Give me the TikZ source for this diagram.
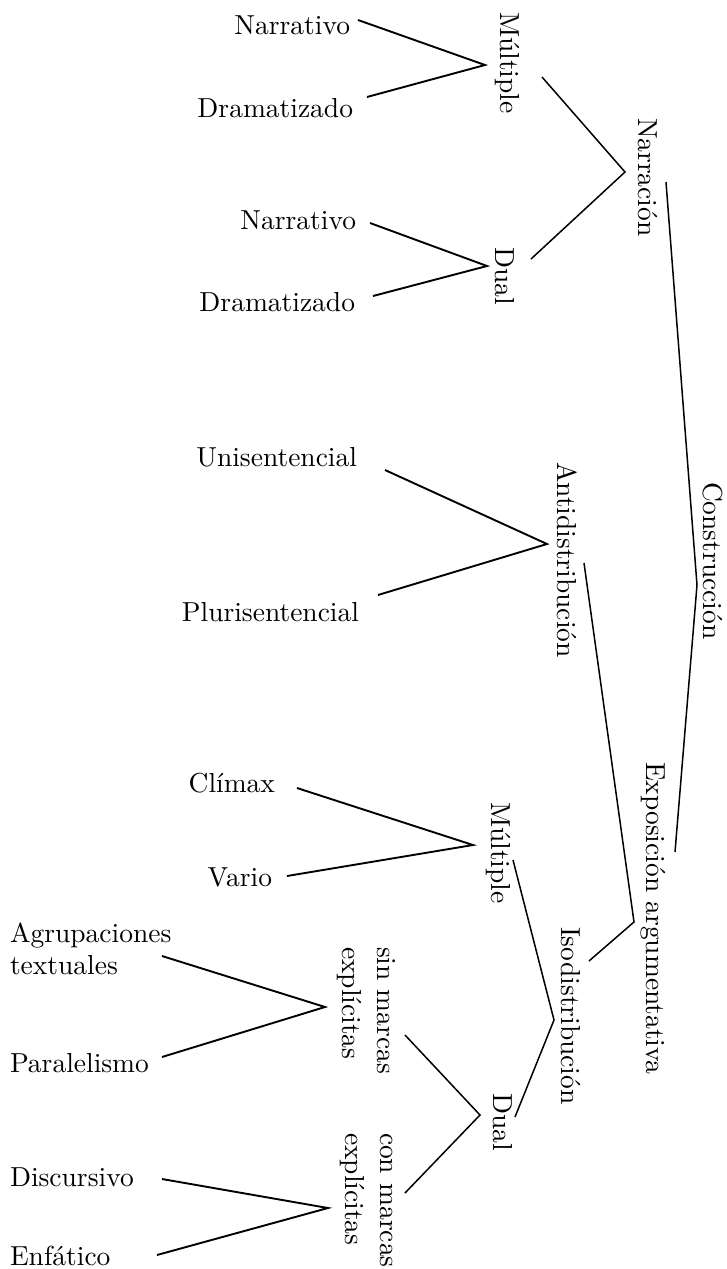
\documentclass[tikz,border=0pt]{standalone}
\usepackage{fontspec}
\setmainfont{lmroman10-regular.otf}
\begin{document}
\begin{tikzpicture}[x=1pt,y=-1pt,
  lbl/.style={inner sep=0pt,outer sep=0pt,font=\fontsize{27.5}{32}\selectfont},
  vlbl/.style={lbl,rotate=-90,anchor=west},
  leafline/.style={line width=1.9pt},
  midline/.style={line width=1.5pt}]
\useasboundingbox (0,0) rectangle (727,1269);
% horizontal leaves
\node[lbl,anchor=east] (narr1) at (350,25) {Narrativo};
\node[lbl,anchor=east] (dram1) at (353,108) {Dramatizado};
\node[lbl,anchor=east] (narr2) at (356,220) {Narrativo};
\node[lbl,anchor=east] (dram2) at (355,302) {Dramatizado};
\node[lbl,anchor=east] (unis) at (357,457) {Unisentencial};
\node[lbl,anchor=east] (plur) at (359,612) {Plurisentencial};
\node[lbl,anchor=east] (clim) at (275,783) {Clímax};
\node[lbl,anchor=east] (vario) at (272,877) {Vario};
\node[lbl,anchor=west,align=left] (agru) at (10,949) {Agrupaciones\\textuales};
\node[lbl,anchor=west] (para) at (10,1063) {Paralelismo};
\node[lbl,anchor=west] (disc) at (10,1177) {Discursivo};
\node[lbl,anchor=west] (enfa) at (10,1256) {Enfático};
% rotated labels
\node[vlbl] (mult1) at (507,12) {Múltiple};
\node[vlbl] (dual1) at (505,247) {Dual};
\node[vlbl] (narrac) at (648,118) {Narración};
\node[vlbl] (antid) at (567,462) {Antidistribución};
\node[vlbl] (constr) at (713,482) {Construcción};
\node[vlbl] (mult2) at (498,802) {Múltiple};
\node[vlbl] (expo) at (653,762) {Exposición argumentativa};
\node[vlbl] (isod) at (571,927) {Isodistribución};
\node[vlbl] (dual2) at (503,1093) {Dual};
\node[vlbl,align=left] (sinm) at (366,947) {sin marcas\\[3pt]explícitas};
\node[vlbl,align=left] (conm) at (366,1133) {con marcas\\[3pt]explícitas};
% bracket points
\coordinate (a1) at (358,20);  \coordinate (v1) at (485,65);   \coordinate (b1) at (367,97);
\coordinate (a2) at (370,223); \coordinate (v2) at (487,266);  \coordinate (b2) at (373,296);
\coordinate (a3) at (542,77);  \coordinate (v3) at (625,172);  \coordinate (b3) at (531,259);
\coordinate (a4) at (666,182); \coordinate (v4) at (697,585);  \coordinate (b4) at (675,852);
\coordinate (a5) at (385,470); \coordinate (v5) at (547,544);  \coordinate (b5) at (378,595);
\coordinate (a6) at (584,563); \coordinate (v6) at (634,922);  \coordinate (b6) at (589,961);
\coordinate (a7) at (297,788); \coordinate (v7) at (473,845);  \coordinate (b7) at (287,876);
\coordinate (a8) at (513,860); \coordinate (v8) at (554,1020); \coordinate (b8) at (515,1117);
\coordinate (a9) at (162,956); \coordinate (v9) at (325,1007); \coordinate (b9) at (162,1057);
\coordinate (a10) at (405,1035); \coordinate (v10) at (480,1115); \coordinate (b10) at (405,1193);
\coordinate (a11) at (162,1179); \coordinate (v11) at (328,1208); \coordinate (b11) at (157,1255);
% connectors
\draw[leafline] (a1) -- (v1) -- (b1);
\draw[leafline] (a2) -- (v2) -- (b2);
\draw[midline] (a3) -- (v3) -- (b3);
\draw[midline] (a4) -- (v4) -- (b4);
\draw[leafline] (a5) -- (v5) -- (b5);
\draw[midline] (a6) -- (v6) -- (b6);
\draw[leafline] (a7) -- (v7) -- (b7);
\draw[midline] (a8) -- (v8) -- (b8);
\draw[leafline] (a9) -- (v9) -- (b9);
\draw[midline] (a10) -- (v10) -- (b10);
\draw[leafline] (a11) -- (v11) -- (b11);
\end{tikzpicture}
\end{document}
